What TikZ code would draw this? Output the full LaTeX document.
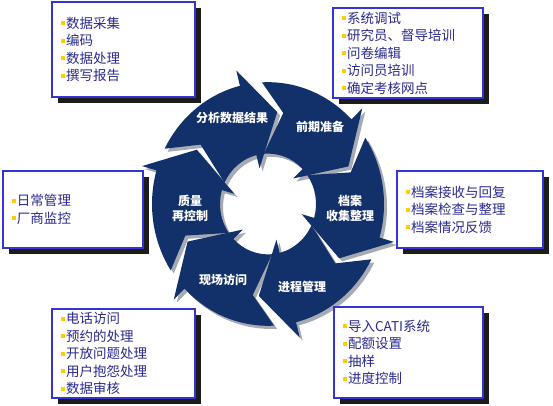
\documentclass[tikz,border=0pt]{standalone}
\usepackage{fontspec}
\setmainfont{Noto Sans CJK SC}
\usepackage{tikz}
\usetikzlibrary{shadows}
\definecolor{ringnavy}{HTML}{12306A}
\definecolor{ringshade}{HTML}{A6AAB2}
\definecolor{boxblue}{HTML}{3434D2}
\definecolor{itemblue}{HTML}{2A2A8E}
\definecolor{bulletyellow}{HTML}{FFCC00}
\definecolor{boxshadow}{HTML}{1C1C1C}
\newcommand{\sqbullet}{\textcolor{bulletyellow}{\rule[3pt]{4pt}{4pt}}\hspace{1.5pt}}

\begin{document}
\begin{tikzpicture}[x=1pt,y=1pt,
  infobox/.style={draw=boxblue,line width=1.2pt,fill=white,align=left,
                  inner xsep=8.5pt,inner ysep=0pt,text=itemblue,
                  font=\fontsize{13.5}{17.5}\selectfont,
                  drop shadow={shadow xshift=6pt,shadow yshift=-6pt,fill=boxshadow,opacity=1}},
  ringlabel/.style={text=white,font=\fontsize{12}{15}\selectfont\bfseries,align=center}
]
  \useasboundingbox (0,0) rectangle (553,406);
  % ring of six arrows, shade first
  \begin{scope}[shift={(268,202)},yscale=1.05]
    \foreach \t in {100,40,-20,-80,-140,160}
      \fill[ringshade,shift={(3,-3)}] (\t-7:116) arc[start angle=\t-7,end angle=\t-56,radius=116]
        -- (\t-56:131) -- (\t-76:88) -- (\t-56:35) -- (\t-56:48)
        arc[start angle=\t-56,end angle=\t-5,radius=48] -- (\t-20:88) -- cycle;
    \foreach \t in {100,40,-20,-80,-140,160}
      \fill[ringnavy] (\t-7:116) arc[start angle=\t-7,end angle=\t-56,radius=116]
        -- (\t-56:131) -- (\t-76:88) -- (\t-56:35) -- (\t-56:48)
        arc[start angle=\t-56,end angle=\t-5,radius=48] -- (\t-20:88) -- cycle;
  \end{scope}
  \node[ringlabel] (analyse) at (232,288) {分析数据结果};
  \node[ringlabel] (prepare) at (320,279) {前期准备};
  \node[ringlabel] (archive) at (350,198) {档案\\收集整理};
  \node[ringlabel] (progress) at (302,119) {进程管理};
  \node[ringlabel] (fieldwork) at (223,126) {现场访问};
  \node[ringlabel] (quality) at (190,198) {质量\\再控制};
  % boxes
  \node[infobox,text width=126pt,minimum height=95pt] (report) at (123.5,356.5)
    {\sqbullet 数据采集\\\sqbullet 编码\\\sqbullet 数据处理\\\sqbullet 撰写报告};
  \node[infobox,text width=133pt,minimum height=90pt] (prepwork) at (408,353)
    {\sqbullet 系统调试\\\sqbullet 研究员、督导培训\\\sqbullet 问卷编辑\\\sqbullet 访问员培训\\\sqbullet 确定考核网点};
  \node[infobox,text width=123pt,minimum height=77pt] (supervise) at (73,196.5)
    {\sqbullet 日常管理\\\sqbullet 厂商监控};
  \node[infobox,text width=129pt,minimum height=77pt] (filing) at (470,196.5)
    {\sqbullet 档案接收与回复\\\sqbullet 档案检查与整理\\\sqbullet 档案情况反馈};
  \node[infobox,text width=126pt,minimum height=89pt] (interview) at (123.5,52.5)
    {\sqbullet 电话访问\\\sqbullet 预约的处理\\\sqbullet 开放问题处理\\\sqbullet 用户抱怨处理\\\sqbullet 数据审核};
  \node[infobox,text width=132pt,minimum height=91pt] (cati) at (408.5,53.5)
    {\sqbullet 导入CATI系统\\\sqbullet 配额设置\\\sqbullet 抽样\\\sqbullet 进度控制};
\end{tikzpicture}
\end{document}
